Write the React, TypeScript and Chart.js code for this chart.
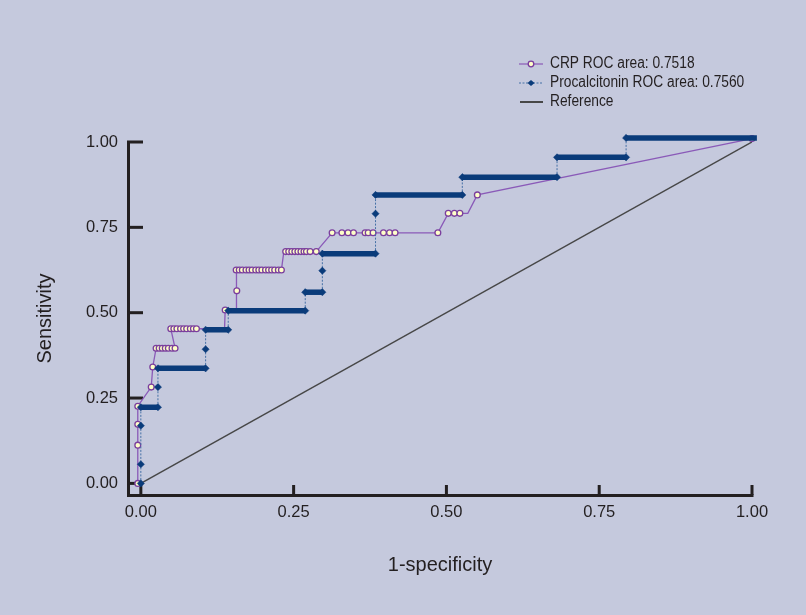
import React, { useEffect, useRef } from 'react';
import { Chart, registerables } from 'chart.js';

Chart.register(...registerables);

// ---- data ----
const xTickValues = [0, 0.25, 0.5, 0.75, 1];
const yTickValues = [0, 0.25, 0.5, 0.75, 1];

const crpLabel = 'CRP ROC area: 0.7518';
const crpX = [
  -0.005, -0.005, -0.005, -0.005,
  0.017, 0.0195,
  0.025, 0.030, 0.035, 0.040, 0.045, 0.051, 0.056,
  0.049, 0.054, 0.059, 0.065, 0.070, 0.075, 0.081, 0.086, 0.091,
  0.137, 0.138, 0.157, 0.157,
  0.156, 0.161, 0.166, 0.172, 0.177, 0.182, 0.188, 0.193, 0.198, 0.204, 0.209, 0.214, 0.219, 0.225, 0.230,
  0.234, 0.237, 0.242, 0.247, 0.252, 0.257, 0.262, 0.267, 0.271, 0.277, 0.287,
  0.313, 0.329, 0.339, 0.348, 0.367, 0.372, 0.380, 0.397, 0.407, 0.416, 0.486,
  0.503, 0.513, 0.522, 0.535,
  0.5506, 1.0,
];
const crpY = [
  0, 0.112, 0.173, 0.226,
  0.282, 0.341,
  0.396, 0.396, 0.396, 0.396, 0.396, 0.396, 0.396,
  0.453, 0.453, 0.453, 0.453, 0.453, 0.453, 0.453, 0.453, 0.453,
  0.453, 0.508, 0.508, 0.564,
  0.625, 0.625, 0.625, 0.625, 0.625, 0.625, 0.625, 0.625, 0.625, 0.625, 0.625, 0.625, 0.625, 0.625, 0.625,
  0.679, 0.679, 0.679, 0.679, 0.679, 0.679, 0.679, 0.679, 0.679, 0.679, 0.679,
  0.734, 0.734, 0.734, 0.734, 0.734, 0.734, 0.734, 0.734, 0.734, 0.734, 0.734,
  0.791, 0.791, 0.791, 0.791,
  0.845, 1.01,
];
// bends of the CRP line that carry no marker
const crpCorners: [number, number][] = [[0.137, 0.453], [0.157, 0.508], [0.535, 0.791], [0.234, 0.679]];

const pctLabel = 'Procalcitonin ROC area: 0.7560';
const pctX = [
  0, 0, 0, 0, 0.028, 0.028, 0.028, 0.106, 0.106, 0.106, 0.143, 0.143, 0.269, 0.269,
  0.297, 0.297, 0.297, 0.384, 0.384, 0.384, 0.526, 0.526, 0.681, 0.681, 0.794, 0.794, 1.008,
];
const pctY = [
  0, 0.056, 0.169, 0.223, 0.223, 0.282, 0.337, 0.337, 0.393, 0.45, 0.45, 0.506, 0.506, 0.56,
  0.56, 0.623, 0.673, 0.673, 0.79, 0.845, 0.845, 0.897, 0.897, 0.955, 0.955, 1.012, 1.012,
];

const refLabel = 'Reference';
const refX = [0, 1];
const refY = [0, 1];

// ---- styles ----
const BG = '#C5C9DD';
const INK = '#231F20';
const PURPLE = '#8A5AB8';
const PURPLE_DARK = '#7A3E9D';
const CREAM = '#FFFFC8';
const NAVY = '#0A3B7A';
const DASHBLUE = '#4570A6';
const REFGRAY = '#474747';
const SANS = "'Liberation Sans', Arial, sans-serif";

const toPoints = (xs: number[], ys: number[]) => xs.map((x, i) => ({ x, y: ys[i] }));
const isCorner = (p: { x: number; y: number }) =>
  crpCorners.some(([cx, cy]) => cx === p.x && cy === p.y);

const axesPlugin = {
  id: 'inwardAxes',
  beforeDatasetsDraw(chart: any) {
    const { ctx, chartArea: a, scales } = chart;
    const L = Math.round(a.left);
    const T = Math.round(a.top);
    const B = Math.round(a.bottom);
    const R = Math.round(a.right);
    ctx.save();
    ctx.fillStyle = INK;
    ctx.fillRect(L - 1, T - 1, 3, B - T + 3);
    ctx.fillRect(L - 1, B - 1, R - L + 2.5, 3);
    yTickValues.forEach((v) => {
      const py = scales.y.getPixelForValue(v);
      ctx.fillRect(L - 1, py - 1.5, 16, 3);
    });
    xTickValues.forEach((v) => {
      const px = scales.x.getPixelForValue(v);
      ctx.fillRect(px - 1.5, B - 10, 3, 10);
    });
    ctx.restore();
  },
};

const legendPlugin = {
  id: 'rocLegend',
  afterDraw(chart: any) {
    const { ctx } = chart;
    const x0 = 519, x1 = 543, xm = 531, tx = 550;
    const rows = [64, 83, 102];
    ctx.save();
    chart.data.datasets.forEach((ds: any, i: number) => {
      const y = rows[i];
      ctx.save();
      if (ds.label === crpLabel) {
        ctx.strokeStyle = PURPLE;
        ctx.lineWidth = 1.2;
        ctx.beginPath(); ctx.moveTo(x0, y); ctx.lineTo(x1, y); ctx.stroke();
        ctx.beginPath(); ctx.arc(xm, y, 2.8, 0, Math.PI * 2);
        ctx.fillStyle = CREAM; ctx.fill();
        ctx.strokeStyle = PURPLE_DARK; ctx.lineWidth = 1.3; ctx.stroke();
      } else if (ds.label === pctLabel) {
        ctx.strokeStyle = DASHBLUE;
        ctx.lineWidth = 1;
        ctx.setLineDash([2, 1.5]);
        ctx.beginPath(); ctx.moveTo(x0, y); ctx.lineTo(x1, y); ctx.stroke();
        ctx.setLineDash([]);
        ctx.fillStyle = NAVY;
        ctx.beginPath();
        ctx.moveTo(xm - 3.5, y); ctx.lineTo(xm, y - 3); ctx.lineTo(xm + 3.5, y); ctx.lineTo(xm, y + 3);
        ctx.closePath(); ctx.fill();
      } else {
        ctx.strokeStyle = REFGRAY;
        ctx.lineWidth = 2;
        ctx.beginPath(); ctx.moveTo(x0 + 1, y); ctx.lineTo(x1, y); ctx.stroke();
      }
      ctx.restore();
      // condensed legend lettering, like the narrow face of the original
      ctx.save();
      ctx.translate(tx, y);
      ctx.scale(0.86, 1);
      ctx.font = `16px ${SANS}`;
      ctx.textBaseline = 'middle';
      ctx.textAlign = 'left';
      ctx.fillStyle = INK;
      ctx.fillText(ds.label, 0, 0);
      ctx.restore();
    });
    ctx.restore();
  },
};

export default function App() {
  const canvasRef = useRef<HTMLCanvasElement | null>(null);

  useEffect(() => {
    document.body.style.margin = '0';
    document.body.style.background = BG;
    const canvas = canvasRef.current;
    if (!canvas) return;

    const flat = (c: any) => c.p0.parsed.y === c.p1.parsed.y;

    const chart = new Chart(canvas, {
      type: 'scatter',
      data: {
        datasets: [
          {
            label: crpLabel,
            data: toPoints(crpX, crpY),
            showLine: true,
            order: 1,
            clip: false,
            borderColor: PURPLE,
            borderWidth: 1.3,
            pointStyle: 'circle',
            pointRadius: (c: any) => (c.raw && isCorner(c.raw) ? 0 : 2.9),
            pointBackgroundColor: CREAM,
            pointBorderColor: PURPLE_DARK,
            pointBorderWidth: 1.3,
          } as any,
          {
            label: pctLabel,
            data: toPoints(pctX, pctY),
            showLine: true,
            order: 0,
            clip: false,
            borderColor: NAVY,
            borderWidth: 5,
            segment: {
              borderWidth: (c: any) => (flat(c) ? 5.5 : 1),
              borderColor: (c: any) => (flat(c) ? NAVY : DASHBLUE),
              borderDash: (c: any) => (flat(c) ? [] : [2, 1.5]),
            },
            pointStyle: 'rectRot',
            pointRadius: 3.6,
            pointBackgroundColor: NAVY,
            pointBorderColor: NAVY,
            pointBorderWidth: 0.5,
          } as any,
          {
            label: refLabel,
            data: toPoints(refX, refY),
            showLine: true,
            order: 2,
            borderColor: REFGRAY,
            borderWidth: 1.5,
            pointRadius: 0,
          } as any,
        ],
      },
      options: {
        responsive: false,
        maintainAspectRatio: false,
        devicePixelRatio: 1,
        animation: false,
        events: [],
        layout: { padding: { top: 142, right: 54, left: 0, bottom: 0 } },
        plugins: {
          legend: { display: false },
          tooltip: { enabled: false },
        },
        scales: {
          x: {
            type: 'linear',
            min: -0.021,
            max: 1.0,
            grid: { display: false, drawTicks: false },
            border: { display: false },
            afterBuildTicks: (s: any) => {
              s.ticks = xTickValues.map((v) => ({ value: v }));
            },
            afterFit: (s: any) => {
              s.height = 120;
            },
            ticks: {
              padding: 8,
              color: INK,
              font: { family: SANS, size: 16.5 },
              callback: (v: any) => Number(v).toFixed(2),
            },
            title: {
              display: true,
              text: '1-specificity',
              color: INK,
              font: { family: SANS, size: 20 },
              padding: { top: 0, bottom: 38 },
            },
          },
          y: {
            type: 'linear',
            min: -0.034,
            max: 1.0,
            grid: { display: false, drawTicks: false },
            border: { display: false },
            afterBuildTicks: (s: any) => {
              s.ticks = yTickValues.map((v) => ({ value: v }));
            },
            afterFit: (s: any) => {
              s.width = 128;
            },
            ticks: {
              padding: 10,
              color: INK,
              font: { family: SANS, size: 16.5 },
              callback: (v: any) => Number(v).toFixed(2),
            },
            title: {
              display: true,
              text: 'Sensitivity',
              color: INK,
              font: { family: SANS, size: 20 },
              padding: { top: 33, bottom: 0 },
            },
          },
        },
      } as any,
      plugins: [axesPlugin, legendPlugin],
    });

    return () => chart.destroy();
  }, []);

  return (
    <div style={{ position: 'absolute', left: 0, top: 0, width: 806, height: 615, background: BG }}>
      <canvas ref={canvasRef} width={806} height={615} style={{ display: 'block', width: 806, height: 615 }} />
    </div>
  );
}
